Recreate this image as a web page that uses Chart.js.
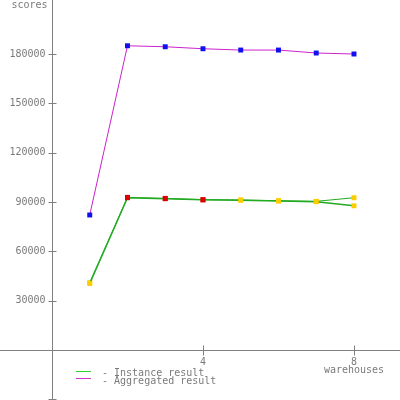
<!DOCTYPE html>
<html>
<head>
<meta charset="utf-8">
<script src="https://cdn.jsdelivr.net/npm/chart.js@4"></script>
<style>
  html, body { margin: 0; padding: 0; background: #fff; }
  #wrap { width: 400px; height: 400px; }
</style>
</head>
<body>
<div id="wrap"><canvas id="myChart" width="400" height="400"></canvas></div>
<script>
// warehouses on the x axis
const warehouses = [1, 2, 3, 4, 5, 6, 7, 8];
// aggregated score (purple line, blue points)
const aggregated = [82100, 185000, 184400, 183200, 182400, 182400, 180600, 180000];
// two JVM instances (green lines)
const instanceA = [41000, 92800, 92200, 91400, 91200, 90800, 90400, 92600];
const instanceB = [40400, 92600, 92000, 91300, 91100, 90600, 90200, 87700];
const instanceColors = ['#ffcc00', '#dd0000', '#dd0000', '#dd0000', '#ffcc00', '#ffcc00', '#ffcc00', '#ffcc00'];
const xTicks = [4, 8];
const yTicks = [30000, 60000, 90000, 120000, 150000, 180000];
const yTicksNoLabel = [-30000];
const labelInstance = 'Instance result';
const labelAggregated = 'Aggregated result';

const axisColor = '#808080';
const textColor = '#7a7a7a';
const font = '10px "DejaVu Sans Mono"';

// Склеиваем x и y в точки
function toPoints(values) {
  return warehouses.map((w, i) => ({ x: w, y: values[i] }));
}

// Оси, подписи и легенда рисуются вручную
const axesPlugin = {
  id: 'axes',
  beforeDatasetsDraw(chart) {
    const ctx = chart.ctx;
    const xs = chart.scales.x;
    const ys = chart.scales.y;
    const x0 = Math.round(xs.getPixelForValue(0)) + 0.5;
    const y0 = Math.round(ys.getPixelForValue(0)) + 0.5;
    ctx.save();
    ctx.strokeStyle = axisColor;
    ctx.lineWidth = 1;
    ctx.beginPath();
    ctx.moveTo(x0, 0);
    ctx.lineTo(x0, 400);
    ctx.moveTo(0, y0);
    ctx.lineTo(400, y0);
    yTicks.concat(yTicksNoLabel).forEach(v => {
      const y = Math.round(ys.getPixelForValue(v)) + 0.5;
      ctx.moveTo(x0 - 4, y);
      ctx.lineTo(x0 + 4, y);
    });
    xTicks.forEach(v => {
      const x = Math.round(xs.getPixelForValue(v)) + 0.5;
      ctx.moveTo(x, y0 - 5);
      ctx.lineTo(x, y0 + 5);
    });
    ctx.stroke();

    ctx.fillStyle = textColor;
    ctx.font = font;
    ctx.textAlign = 'right';
    ctx.textBaseline = 'middle';
    yTicks.forEach(v => {
      ctx.fillText(String(v), x0 - 7, ys.getPixelForValue(v));
    });
    ctx.textBaseline = 'alphabetic';
    ctx.fillText('scores', x0 - 5, 8);

    ctx.textAlign = 'center';
    xTicks.forEach(v => {
      ctx.fillText(String(v), xs.getPixelForValue(v), y0 + 14);
    });
    ctx.fillText('warehouses', xs.getPixelForValue(8), y0 + 22);

    // легенда
    const items = [
      { label: labelInstance, color: '#33cc33', y: 371.5, base: 376 },
      { label: labelAggregated, color: '#cc33cc', y: 378.5, base: 383.5 }
    ];
    ctx.textAlign = 'left';
    items.forEach(item => {
      ctx.strokeStyle = item.color;
      ctx.beginPath();
      ctx.moveTo(76, item.y);
      ctx.lineTo(91, item.y);
      ctx.stroke();
      ctx.fillStyle = textColor;
      ctx.fillText('- ' + item.label, 102, item.base);
    });
    ctx.restore();
  }
};

const config = {
  type: 'scatter',
  data: {
    datasets: [
      {
        label: labelInstance,
        data: toPoints(instanceB),
        showLine: true,
        borderColor: '#22aa22',
        borderWidth: 1.5,
        pointStyle: 'rect',
        pointRadius: 3.5,
        pointBorderWidth: 0,
        pointBackgroundColor: instanceColors
      },
      {
        label: labelInstance,
        data: toPoints(instanceA),
        showLine: true,
        borderColor: '#22aa22',
        borderWidth: 1,
        pointStyle: 'rect',
        pointRadius: 3.5,
        pointBorderWidth: 0,
        pointBackgroundColor: instanceColors
      },
      {
        label: labelAggregated,
        data: toPoints(aggregated),
        showLine: true,
        borderColor: '#cc22cc',
        borderWidth: 1,
        pointStyle: 'rect',
        pointRadius: 3.5,
        pointBorderWidth: 0,
        pointBackgroundColor: '#1010ee'
      }
    ]
  },
  options: {
    responsive: false,
    animation: false,
    devicePixelRatio: 1,
    layout: { padding: 0, autoPadding: false },
    plugins: {
      legend: { display: false },
      tooltip: { enabled: false }
    },
    scales: {
      x: { type: 'linear', min: -1.377, max: 9.219, display: false },
      y: { type: 'linear', min: -30405, max: 212838, display: false }
    }
  },
  plugins: [axesPlugin]
};

const myChart = new Chart(document.getElementById('myChart'), config);
</script>
</body>
</html>
